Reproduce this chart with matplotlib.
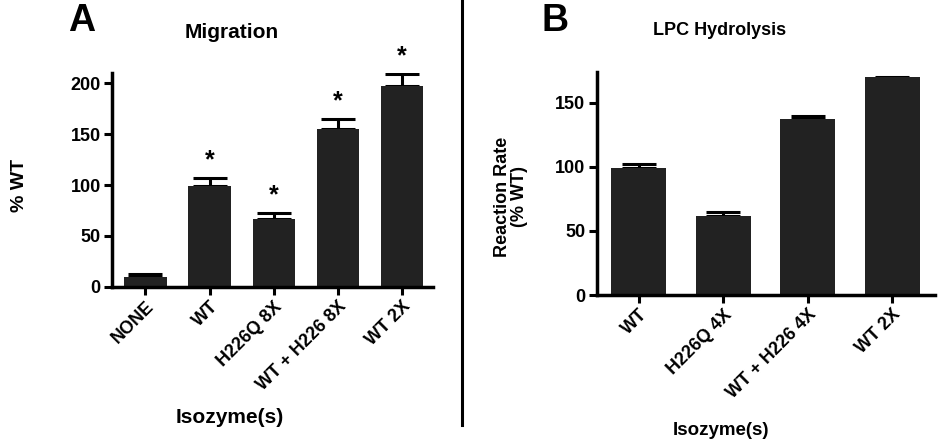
import numpy as np
import matplotlib
matplotlib.use('Agg')
import matplotlib.pyplot as plt

plt.rcParams['font.family'] = ['Liberation Sans', 'DejaVu Sans']
plt.rcParams['font.weight'] = 'bold'

# Panel A - Migration
mig_labels = ['NONE', 'WT', 'H226Q 8X', 'WT + H226 8X', 'WT 2X']
mig_values = [10, 99, 67, 155, 197]
mig_err = [3, 8, 6, 10, 12]
mig_star = [False, True, True, True, True]

# Panel B - LPC hydrolysis
lpc_labels = ['WT', 'H226Q 4X', 'WT + H226 4X', 'WT 2X']
lpc_values = [99, 62, 137.5, 170]
lpc_err = [3, 3, 2.5, np.nan]

bar_color = '#222222'


def style_axes(ax):
    for side in ['top', 'right']:
        ax.spines[side].set_visible(False)
    for side in ['left', 'bottom']:
        ax.spines[side].set_linewidth(2.5)
    ax.tick_params(axis='both', direction='out', length=6, width=2.2,
                   labelsize=13, pad=2)
    for lab in ax.get_yticklabels():
        lab.set_fontweight('bold')


def draw_bars(ax, labels, values, err, width, fs):
    x = np.arange(len(labels))
    ax.bar(x, values, width=width, color=bar_color, zorder=2)
    upper = np.array(err, dtype=float)
    ax.errorbar(x, values, yerr=[np.zeros(len(x)), upper], fmt='none',
                ecolor='black', elinewidth=2.2, capsize=12, capthick=2.2, zorder=1)
    ax.set_xticks(x)
    ax.set_xticklabels(labels, rotation=45, ha='right', rotation_mode='anchor',
                       fontsize=fs, fontweight='bold')
    return x


fig = plt.figure(figsize=(9.41, 4.47), dpi=100)

axA = fig.add_axes([0.119, 0.358, 0.341, 0.479])
xA = draw_bars(axA, mig_labels, mig_values, mig_err, 0.66, 12.5)
for xi, v, e, s in zip(xA, mig_values, mig_err, mig_star):
    if s:
        axA.text(xi, v + e + 5, '*', ha='center', va='bottom', fontsize=18,
                 fontweight='bold')
axA.set_xlim(-0.52, 4.48)
axA.set_ylim(0, 210)
axA.set_yticks([0, 50, 100, 150, 200])
style_axes(axA)

axB = fig.add_axes([0.634, 0.340, 0.360, 0.499])
draw_bars(axB, lpc_labels, lpc_values, lpc_err, 0.65, 12.5)
axB.set_xlim(-0.5, 3.51)
axB.set_ylim(0, 174)
axB.set_yticks([0, 50, 100, 150])
style_axes(axB)

# Text labels
fig.text(0.087, 0.952, 'A', fontsize=27, fontweight='bold', ha='center', va='center')
fig.text(0.590, 0.952, 'B', fontsize=27, fontweight='bold', ha='center', va='center')
fig.text(0.246, 0.928, 'Migration', fontsize=15, fontweight='bold', ha='center', va='center')
fig.text(0.765, 0.932, 'LPC Hydrolysis', fontsize=13, fontweight='bold', ha='center', va='center')
fig.text(0.021, 0.585, '% WT', fontsize=14, fontweight='bold', rotation=90,
         ha='center', va='center')
fig.text(0.543, 0.56, 'Reaction Rate\n(% WT)', fontsize=13, fontweight='bold',
         rotation=90, ha='center', va='center', linespacing=1.0)
fig.text(0.244, 0.067, 'Isozyme(s)', fontsize=15, fontweight='bold', ha='center', va='center')
fig.text(0.766, 0.038, 'Isozyme(s)', fontsize=13.5, fontweight='bold', ha='center', va='center')

# divider line between panels
fig.add_artist(plt.Line2D([0.491, 0.491], [0.05, 1.0], color='black', lw=2.2,
                          transform=fig.transFigure))

fig.savefig('out.png', dpi=100)
